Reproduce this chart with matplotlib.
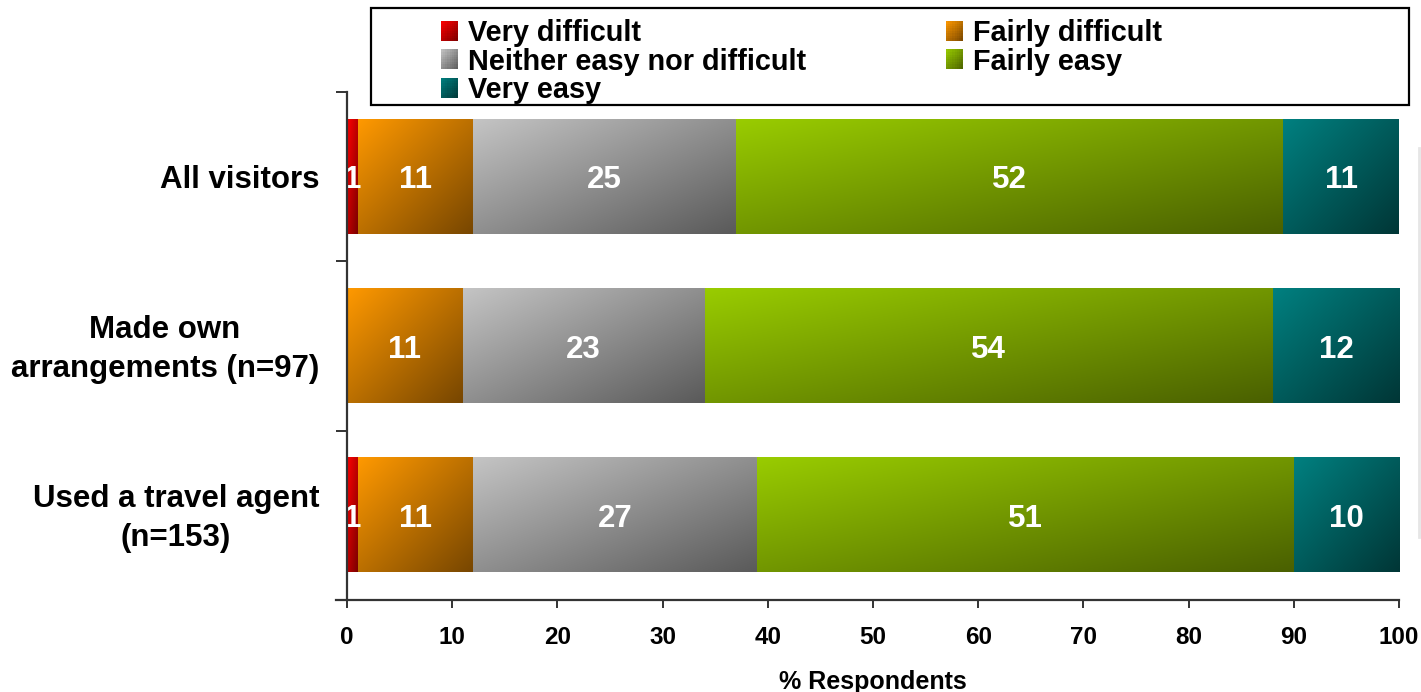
import numpy as np
import matplotlib
matplotlib.use("Agg")
import matplotlib.pyplot as plt
from matplotlib.patches import Rectangle
from matplotlib.lines import Line2D
from matplotlib.legend_handler import HandlerBase
from matplotlib.colors import to_rgb
from matplotlib.transforms import ScaledTranslation

# ---- data -------------------------------------------------------------
groups = ["All visitors", "Made own\narrangements (n=97)", "Used a travel agent\n(n=153)"]
responses = ["Very difficult", "Fairly difficult", "Neither easy nor difficult",
             "Fairly easy", "Very easy"]
very_difficult = [1, 0, 1]
fairly_difficult = [11, 11, 11]
neither = [25, 23, 27]
fairly_easy = [52, 54, 51]
very_easy = [11, 12, 10]
x_ticks = [0, 10, 20, 30, 40, 50, 60, 70, 80, 90, 100]
x_label = "% Respondents"

# ---- style ------------------------------------------------------------
plt.rcParams["font.family"] = ["Liberation Sans", "DejaVu Sans"]
plt.rcParams["font.weight"] = "bold"

# light (top-left) -> dark (bottom-right) gradient stops per response
stops = [
    ("#FF0000", "#7A0000"),
    ("#FF9900", "#774600"),
    ("#C4C4C4", "#5A5A5A"),
    ("#99CC00", "#4A6000"),
    ("#008080", "#003636"),
]

W, H = 1421, 692
fig = plt.figure(figsize=(W / 100, H / 100), dpi=100)
ax = fig.add_axes([347 / W, 1 - 600 / H, (1399 - 347) / W, (600 - 92) / H])

series = [very_difficult, fairly_difficult, neither, fairly_easy, very_easy]
n_groups = len(groups)
ypos = np.arange(n_groups)[::-1]          # first group at the top
bar_h = 0.675

# diagonal ramp in the unit square, 0 at top-left and 1 at bottom-right
g = np.linspace(0, 1, 96)
u, v = np.meshgrid(g, g)
ramp = (u + v) / 2.0


def gradient_rgb(c0, c1):
    a, b = np.array(to_rgb(c0)), np.array(to_rgb(c1))
    return a[None, None, :] * (1 - ramp[..., None]) + b[None, None, :] * ramp[..., None]


left = np.zeros(n_groups)
for vals, (c0, c1) in zip(series, stops):
    img = gradient_rgb(c0, c1)
    for i, val in enumerate(vals):
        if val <= 0:
            continue
        yc = ypos[i]
        ax.imshow(img, extent=(left[i], left[i] + val, yc - bar_h / 2, yc + bar_h / 2),
                  origin="upper", aspect="auto", interpolation="bilinear", zorder=1)
        ax.text(left[i] + val / 2, yc, f"{val}", ha="center", va="center_baseline",
                color="white", fontsize=22.5, fontweight="bold", zorder=2, clip_on=True)
    left += np.array(vals, dtype=float)

ax.set_xlim(0, 100)
ax.set_ylim(-0.5, n_groups - 0.5)

# axes styling
for side in ("top", "right"):
    ax.spines[side].set_visible(False)
for side in ("left", "bottom"):
    ax.spines[side].set_color("#333333")
    ax.spines[side].set_linewidth(1.6)
    ax.spines[side].set_zorder(3)
ax.spines["bottom"].set_bounds(-1.05, 100)

ax.set_xticks(x_ticks)
ax.set_xticklabels([str(t) for t in x_ticks], fontsize=17.5, fontweight="bold")
ax.tick_params(axis="x", direction="out", length=6, width=1.4, color="#333333", pad=13)

ax.set_yticks(ypos)
ax.set_yticklabels(groups, fontsize=22.5, fontweight="bold", ha="right", va="center",
                   multialignment="center", linespacing=1.38)
ax.tick_params(axis="y", which="major", length=0, pad=20)
ax.set_yticks(np.arange(-0.5, n_groups, 1.0), minor=True)
ax.tick_params(axis="y", which="minor", direction="out", length=8, width=1.4,
               color="#333333")

# nudge the group labels slightly downward
nudge = ScaledTranslation(0, -3.5 / 100, fig.dpi_scale_trans)
for lbl in ax.get_yticklabels():
    lbl.set_transform(lbl.get_transform() + nudge)

ax.set_xlabel(x_label, fontsize=18, fontweight="bold", labelpad=15)


# ---- legend -----------------------------------------------------------
class Swatch:
    def __init__(self, c0, c1):
        self.c0, self.c1 = np.array(to_rgb(c0)), np.array(to_rgb(c1))


class SwatchHandler(HandlerBase):
    """Small square filled with a diagonal light-to-dark gradient."""

    def create_artists(self, legend, orig_handle, xdescent, ydescent, width,
                       height, fontsize, trans):
        n = 8
        arts = []
        for ix in range(n):
            for iy in range(n):
                t = ((ix + 0.5) / n + (n - iy - 0.5) / n) / 2.0
                col = orig_handle.c0 * (1 - t) + orig_handle.c1 * t
                arts.append(Rectangle((-xdescent + width * ix / n,
                                       -ydescent + height * iy / n),
                                      width / n * 1.1, height / n * 1.1,
                                      facecolor=col, edgecolor="none",
                                      transform=trans))
        return arts


swatches = [Swatch(c0, c1) for c0, c1 in stops]
order = [0, 2, 4, 1, 3]   # row-wise reading across two columns
leg = fig.legend([swatches[k] for k in order], [responses[k] for k in order],
                 handler_map={Swatch: SwatchHandler()},
                 ncol=2, loc="upper left", bbox_to_anchor=(441 / W, 1 - 19 / H),
                 frameon=False, borderpad=0, borderaxespad=0,
                 prop={"size": 20.8, "weight": "bold"},
                 handlelength=0.59, handleheight=0.66, handletextpad=0.35,
                 columnspacing=4.84, labelspacing=0.02)

fig.add_artist(Rectangle((371 / W, 1 - 105 / H), (1409 - 371) / W, (105 - 8) / H,
                         transform=fig.transFigure, facecolor="none",
                         edgecolor="black", linewidth=1.6))

# faint divider at the right edge
fig.add_artist(Line2D([1419 / W, 1419 / W], [1 - 148 / H, 1 - 537 / H],
                      transform=fig.transFigure, color="#E6E6E6", linewidth=2))

fig.savefig("out.png", dpi=100)
